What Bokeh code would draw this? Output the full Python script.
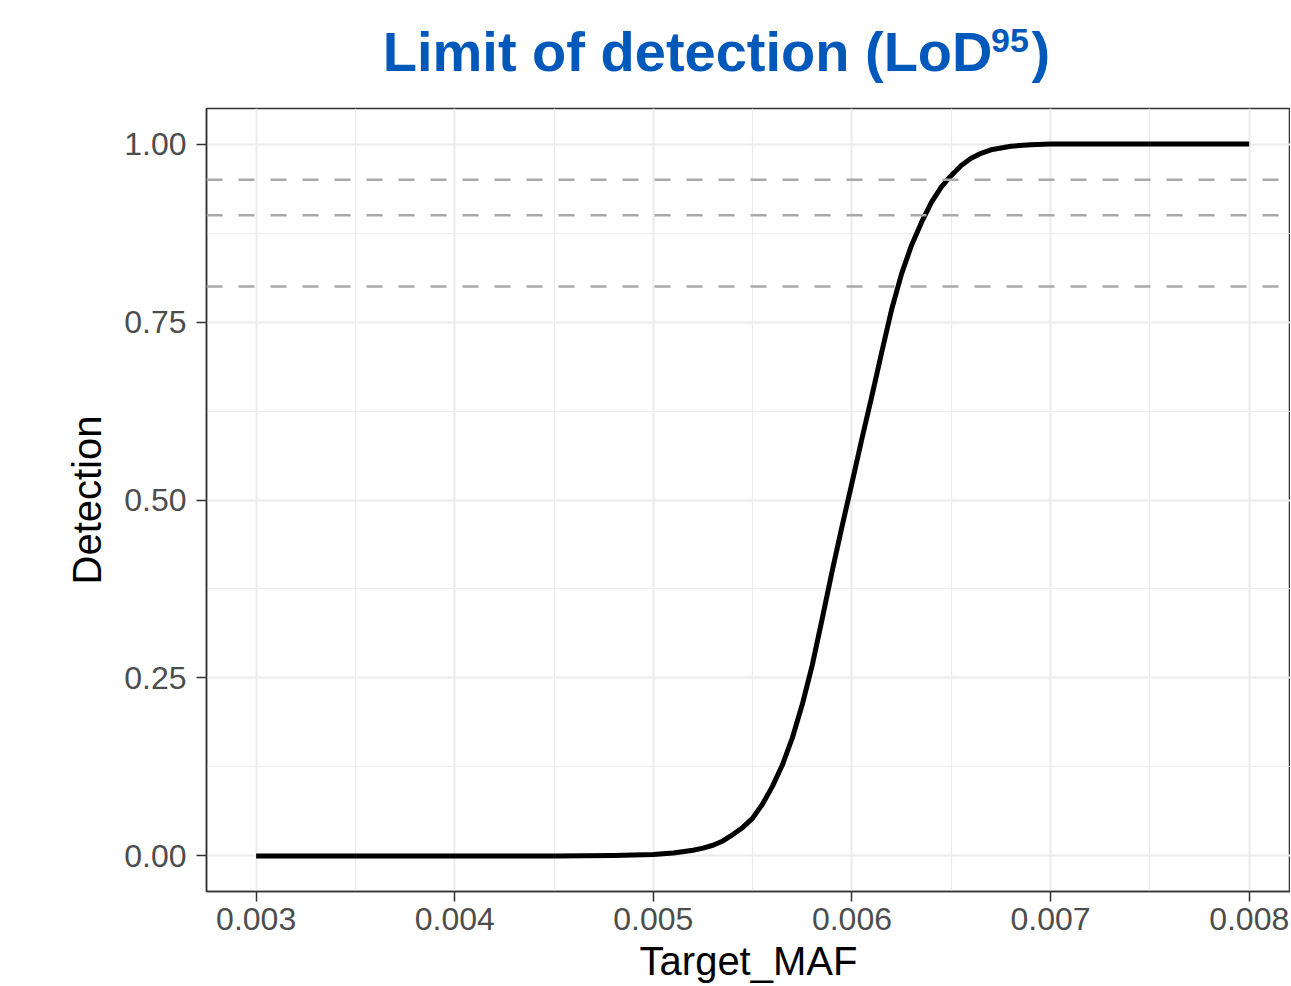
from bokeh.plotting import figure
from bokeh.models import (Range1d, FixedTicker, PrintfTickFormatter, Span,
                          LinearAxis, Grid, ColumnDataSource)
from bokeh.core.properties import value
from bokeh.layouts import column
from bokeh.embed import file_html
from bokeh.resources import INLINE

# ---- data ----
target_maf = [0.0030, 0.0035, 0.0040, 0.0045, 0.0048, 0.0050, 0.0051, 0.0052,
              0.00525, 0.0053, 0.00535, 0.0054, 0.00545, 0.0055, 0.00555, 0.0056,
              0.00565, 0.0057, 0.00575, 0.0058, 0.00585, 0.0059, 0.00595, 0.0060,
              0.00605, 0.0061, 0.00615, 0.0062, 0.00625, 0.0063, 0.00635, 0.0064,
              0.00645, 0.0065, 0.00655, 0.0066, 0.00665, 0.0067, 0.0068, 0.0069,
              0.0070, 0.0075, 0.0080]
detection = [0.0, 0.0, 0.0, 0.0, 0.0005, 0.002, 0.004, 0.008,
             0.011, 0.015, 0.021, 0.030, 0.040, 0.053, 0.073, 0.098,
             0.128, 0.166, 0.213, 0.268, 0.333, 0.400, 0.463, 0.524,
             0.586, 0.646, 0.708, 0.768, 0.818, 0.858, 0.890, 0.918,
             0.940, 0.956, 0.970, 0.980, 0.987, 0.992, 0.997, 0.999,
             1.0, 1.0, 1.0]
thresholds = [0.95, 0.90, 0.80]

x_ticks = [0.003, 0.004, 0.005, 0.006, 0.007, 0.008]
x_minor = [0.0035, 0.0045, 0.0055, 0.0065, 0.0075]
y_ticks = [0.0, 0.25, 0.50, 0.75, 1.00]
y_minor = [0.125, 0.375, 0.625, 0.875]

title_main = "Limit of detection (LoD"
title_sup = "95"
title_end = ")"
x_title = "Target_MAF"
y_title = "Detection"

FONT = "Liberation Sans"
BLUE = "#0059BA"
W = 1290
LEFT = 206
TITLE_H = 100
MAIN_H = 885

# ---------- title strip (pixel coordinates; same side borders as the plot) ----------
t = figure(width=W, height=TITLE_H, output_backend="svg", toolbar_location=None,
           x_range=Range1d(LEFT, W), y_range=Range1d(0, TITLE_H),
           x_axis_type=None, y_axis_type=None,
           min_border_left=LEFT, min_border_right=0,
           min_border_top=0, min_border_bottom=0)
t.outline_line_color = None
t.grid.visible = False
t.text(x=[992], y=[TITLE_H - 50.7], text=[title_main], text_align="right",
       text_baseline="alphabetic", text_font=value(FONT), text_font_size="56px",
       text_font_style="bold", text_color=BLUE)
t.text(x=[990.5], y=[TITLE_H - 40.0], text=[title_sup], text_align="left",
       text_baseline="alphabetic", text_font=value(FONT), text_font_size="34px",
       text_font_style="bold", text_color=BLUE)
t.text(x=[1031], y=[TITLE_H - 50.7], text=[title_end], text_align="left",
       text_baseline="alphabetic", text_font=value(FONT), text_font_size="56px",
       text_font_style="bold", text_color=BLUE)

# ---------- main plot ----------
p = figure(width=W, height=MAIN_H, output_backend="svg", toolbar_location=None,
           x_range=Range1d(0.00275, 0.008208), y_range=Range1d(-0.05, 1.05),
           min_border_left=LEFT, min_border_right=0, min_border_top=8,
           min_border_bottom=94, x_axis_type=None, y_axis_type=None)
p.background_fill_color = "white"
p.border_fill_color = "white"
p.outline_line_color = "#333333"
p.outline_line_width = 1.5

xticker = FixedTicker(ticks=x_ticks, minor_ticks=x_minor)
yticker = FixedTicker(ticks=y_ticks, minor_ticks=y_minor)
xaxis = LinearAxis(ticker=xticker, formatter=PrintfTickFormatter(format="%.3f"),
                   axis_label=x_title)
yaxis = LinearAxis(ticker=yticker, formatter=PrintfTickFormatter(format="%.2f"),
                   axis_label=y_title)
p.add_layout(xaxis, "below")
p.add_layout(yaxis, "left")

for ax in (xaxis, yaxis):
    ax.axis_line_color = "#333333"
    ax.axis_line_width = 1.5
    ax.major_tick_line_color = "#333333"
    ax.major_tick_line_width = 1.5
    ax.major_tick_out = 10
    ax.major_tick_in = 0
    ax.minor_tick_out = 0
    ax.minor_tick_in = 0
    ax.major_label_text_font = FONT
    ax.major_label_text_font_size = "32px"
    ax.major_label_text_color = "#4D4D4D"
    ax.axis_label_text_font = FONT
    ax.axis_label_text_font_size = "40px"
    ax.axis_label_text_font_style = "normal"
    ax.axis_label_text_color = "black"
xaxis.major_label_standoff = 6
xaxis.axis_label_standoff = 6
yaxis.major_label_standoff = 10
yaxis.axis_label_standoff = 12

for dim, tk in ((0, xticker), (1, yticker)):
    p.add_layout(Grid(dimension=dim, ticker=tk,
                      grid_line_color="#EBEBEB", grid_line_width=2,
                      minor_grid_line_color="#EBEBEB", minor_grid_line_width=1.2,
                      level="underlay"))

for th in thresholds:
    p.add_layout(Span(location=th, dimension="width", line_color="#A9A9A9",
                      line_width=2.5, line_dash="16 16"))

src = ColumnDataSource(dict(x=target_maf, y=detection))
p.line("x", "y", source=src, line_color="black", line_width=5, line_join="round")

layout = column(t, p, spacing=0)
open("out.html", "w").write(file_html(layout, INLINE))
